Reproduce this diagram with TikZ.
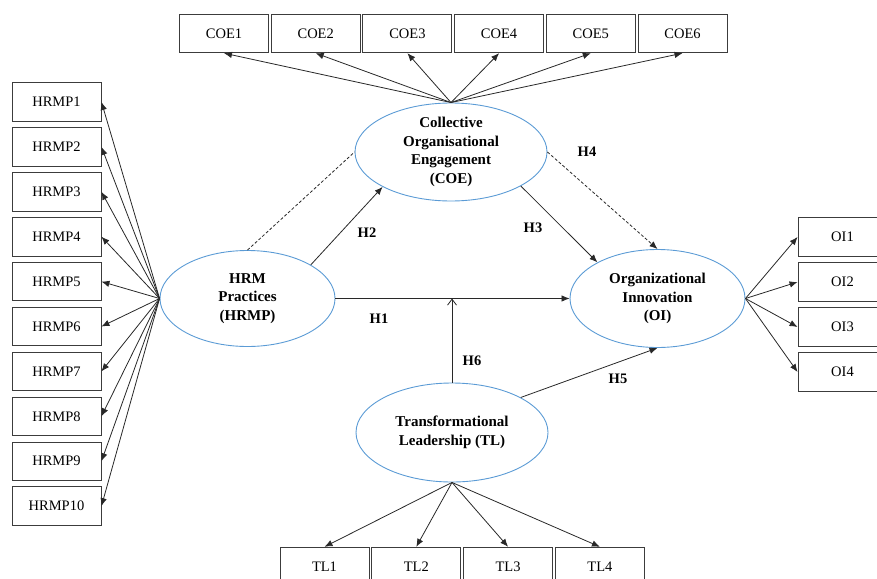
\documentclass[tikz,border=0pt]{standalone}
\usepackage{fontspec}
\setmainfont{Liberation Serif}
\usetikzlibrary{positioning, shapes.geometric, arrows.meta}

\definecolor{ellblue}{RGB}{91,155,213}
\definecolor{boxgray}{RGB}{60,60,60}
\definecolor{linegray}{RGB}{40,40,40}

\tikzset{
  item/.style={draw=boxgray, line width=0.9pt, minimum width=89pt, minimum height=38.5pt,
    inner sep=0pt, font=\fontsize{14.5}{17}\selectfont},
  construct/.style={ellipse, draw=ellblue, line width=0.9pt, inner sep=0pt},
  ctext/.style={align=center, font=\fontsize{15}{18.6}\selectfont\bfseries},
  hyp/.style={font=\fontsize{14.5}{17}\selectfont\bfseries},
  path/.style={line width=0.8pt, draw=linegray},
}

\begin{document}
\begin{tikzpicture}[x=1pt, y=-1pt]
\useasboundingbox (0,0) rectangle (877,578);
\clip (0,0) rectangle (877,578);

% latent constructs
\node[construct, minimum width=192pt, minimum height=98pt] (coe) at (451,152) {};
\node[ctext] at (coe) {Collective\\Organisational\\Engagement\\(COE)};
\node[construct, minimum width=175pt, minimum height=96pt] (hrmp) at (247.5,298.5) {};
\node[ctext] at (hrmp) {HRM\\Practices\\(HRMP)};
\node[construct, minimum width=175pt, minimum height=98pt] (oi) at (657.5,298.5) {};
\node[ctext] at (oi) {Organizational\\Innovation\\(OI)};
\node[construct, minimum width=192pt, minimum height=99pt] (tl) at (452,432.5) {};
\node[ctext] at (tl) {Transformational\\Leadership (TL)};

% indicators
\foreach \i in {1,...,6}
  \node[item] (coe\i) at ({224+(\i-1)*91.7},33.5) {COE\i};
\foreach \i in {1,...,10}
  \node[item] (hrmp\i) at (56.5,{102+(\i-1)*44.9}) {HRMP\i};
\foreach \i in {1,...,4}
  \node[item] (oi\i) at (842.5,{237+(\i-1)*45}) {OI\i};
\foreach \i in {1,...,4}
  \node[item] (tl\i) at ({324.5+(\i-1)*91.8},566.5) {TL\i};

\begin{scope}[>={Latex[length=8pt,width=6.5pt]}]
\foreach \i in {1,...,6}
  \draw[path,->] (coe.north) -- (coe\i.south);
\foreach \i in {1,...,10}
  \draw[path,->] (hrmp.west) -- (hrmp\i.east);
\foreach \i in {1,...,4}
  \draw[path,->] (oi.east) -- (oi\i.west);
\foreach \i in {1,...,4}
  \draw[path,->] (tl.south) -- (tl\i.north);

% structural paths
\draw[path,->] (hrmp.east) -- (oi.west);
\draw[path,->] (hrmp.28.5) -- (coe.207.2);
\draw[path,->] (coe.-26.6) -- (oi.149.2);
\draw[path,->,dash pattern=on 3pt off 2pt] (coe.east) -- (oi.north);
\draw[path,dash pattern=on 3pt off 2pt] (hrmp.north) -- (coe.west);
\draw[path,->] (tl.27.6) -- (oi.south);
\coordinate (mod) at (tl.north |- hrmp.east);
\draw[path,-{Straight Barb[length=6pt,width=9pt]}] (tl.north) -- (mod);
\end{scope}

\node[hyp] (h1) at (379,319) {H1};
\node[hyp] (h2) at (367,233) {H2};
\node[hyp] (h3) at (533,228) {H3};
\node[hyp] (h4) at (587,152) {H4};
\node[hyp] (h5) at (618,379) {H5};
\node[hyp] (h6) at (472,361) {H6};

\end{tikzpicture}
\end{document}
